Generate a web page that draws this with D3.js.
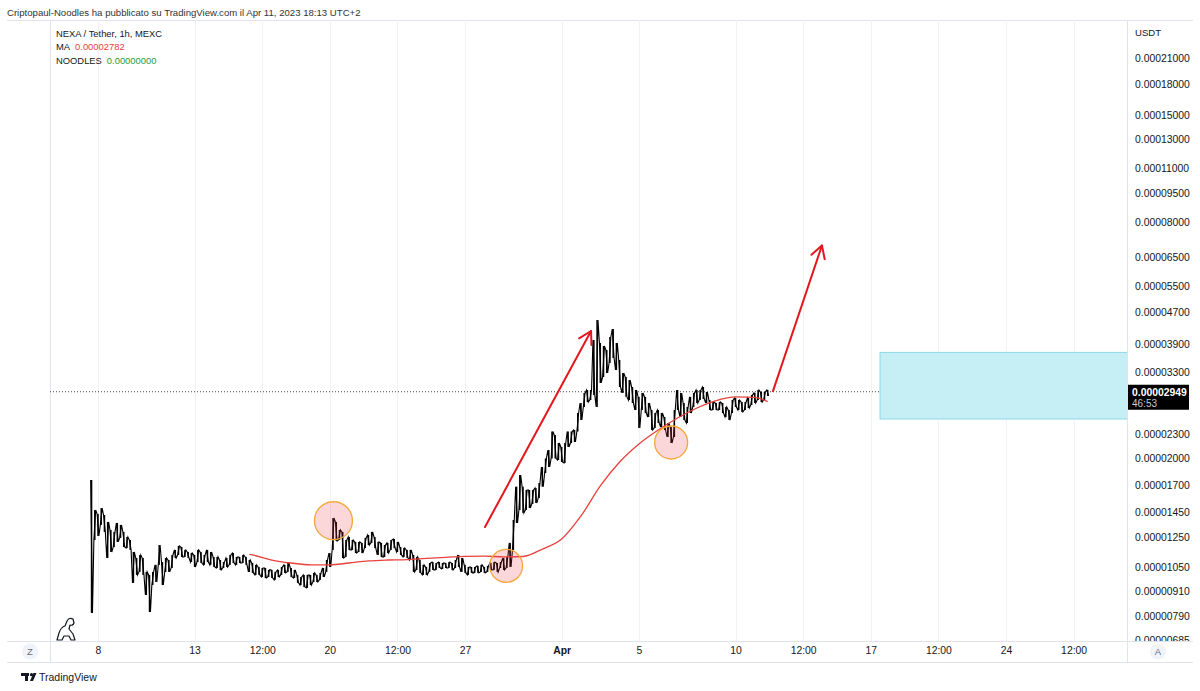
<!DOCTYPE html>
<html><head><meta charset="utf-8">
<script src="https://cdn.jsdelivr.net/npm/d3@7"></script>
<style>
body{margin:0;background:#fff;}
svg{display:block;font-family:"Liberation Sans",Arial,sans-serif;}
</style>
</head><body>
<svg id="chart" width="1200" height="691"></svg>
<script>
// ---------------- DATA (prices in units of 1e-8 USDT) ----------------
const PRICE_UNIT = 1e-8;
const barStart = "2023-03-07T16:00:00Z";
const barHours = 4;
const barHigh = [1755,1471,1437,1488,1428,1371,1308,1293,1363,1347,
1293,1255,1233,1149,1109,1129,1109,1022,1004,1022,
1065,1197,1083,1109,1096,1129,1163,1190,1183,1163,
1149,1142,1129,1163,1149,1129,1163,1149,1116,1116,
1096,1083,1109,1129,1142,1116,1116,1129,1116,1096,
1077,1065,1052,1046,1046,1034,1034,1022,1034,1052,
1065,1077,1046,1034,1004,992,1004,1004,1004,1016,
1004,1016,1046,1096,1142,1403,1371,1308,1293,1233,
1255,1233,1219,1219,1212,1248,1270,1293,1255,1219,
1212,1197,1212,1233,1240,1219,1183,1176,1163,1163,
1129,1116,1096,1065,1052,1077,1083,1077,1083,1077,
1077,1083,1077,1096,1129,1109,1065,1052,1052,1052,
1059,1065,1052,1059,1077,1083,1077,1083,1109,1116,
1212,1387,1687,1807,1687,1654,1654,1654,1674,1724,
1894,1992,2093,2334,2286,2181,2131,2181,2334,2334,
2355,2602,2760,2928,2979,2979,3998,4497,3929,3860,
3770,4069,4266,3929,3554,3292,3217,3160,3032,2979,
2861,2928,2861,2760,2649,2602,2649,2602,2542,2454,
2396,2649,2979,2928,2760,2696,2861,2928,2979,2979,
3032,2945,2809,2776,2760,2776,2760,2696,2649,2809,
2843,2809,2776,2776,2843,2893,2928,2979,2945,2945,
2979];
const barLow = [803,1233,1263,1347,1293,1109,1149,1183,1219,1248,
1183,1176,1163,958,1004,1022,1004,892,807,946,
963,1065,946,1022,1022,1046,1109,1129,1116,1116,
1109,1083,1052,1083,1077,1065,1083,1065,1052,1046,
1034,1046,1052,1065,1077,1065,1077,1077,1065,1022,
1016,1004,1004,992,986,992,986,975,992,1004,
1016,1022,992,986,958,946,935,930,946,963,
963,975,992,1022,1052,1163,1226,1233,1109,1116,
1163,1163,1142,1149,1142,1176,1197,1212,1176,1129,
1116,1116,1142,1163,1176,1149,1129,1116,1109,1096,
1022,1034,1016,1004,1004,1022,1034,1034,1046,1040,
1046,1046,1034,1046,1052,1022,1016,1004,1016,1016,
1016,1022,1016,1022,1034,1034,1022,1046,1034,1046,
1052,1163,1363,1471,1446,1471,1488,1524,1533,1578,
1687,1828,1894,1992,1992,1974,1951,1940,2131,2181,
2194,2334,2497,2696,2776,2809,2893,2696,3105,3217,
3292,3493,3596,3351,3032,2928,2861,2809,2760,2649,
2383,2649,2602,2542,2355,2383,2454,2396,2355,2260,
2181,2260,2649,2542,2497,2454,2602,2696,2760,2809,
2826,2760,2649,2649,2649,2649,2602,2542,2497,2602,
2696,2649,2618,2649,2680,2728,2760,2809,2776,2809,
2877];

const lastPrice = 2949;
const lastPriceLabel = "0.00002949";
const countdownLabel = "46:53";

const maTimes = ["2023-03-15T20:00:00Z","2023-03-16T00:00:00Z","2023-03-17T00:00:00Z","2023-03-18T00:00:00Z",
"2023-03-19T00:00:00Z","2023-03-20T00:00:00Z","2023-03-21T00:00:00Z","2023-03-22T00:00:00Z","2023-03-23T00:00:00Z",
"2023-03-24T00:00:00Z","2023-03-25T00:00:00Z","2023-03-26T00:00:00Z","2023-03-27T00:00:00Z","2023-03-28T00:00:00Z",
"2023-03-29T00:00:00Z","2023-03-30T00:00:00Z","2023-03-31T00:00:00Z","2023-04-01T00:00:00Z","2023-04-02T00:00:00Z",
"2023-04-03T00:00:00Z","2023-04-04T00:00:00Z","2023-04-05T00:00:00Z","2023-04-06T00:00:00Z","2023-04-07T00:00:00Z",
"2023-04-08T00:00:00Z","2023-04-09T00:00:00Z","2023-04-10T00:00:00Z","2023-04-11T00:00:00Z","2023-04-11T16:00:00Z"];
const maValues = [1133,1129,1096,1077,1065,1065,1077,1090,1096,1099,1107,1113,1120,1122,1116,1119,1169,
1240,1420,1694,1951,2169,2355,2527,2680,2800,2861,2853,2782];

const priceTickLabels = ["0.00021000","0.00018000","0.00015000","0.00013000","0.00011000","0.00009500",
"0.00008000","0.00006500","0.00005500","0.00004700","0.00003900","0.00003300","0.00002300","0.00002000",
"0.00001700","0.00001450","0.00001250","0.00001050","0.00000910","0.00000790","0.00000685"];

const timeTickDates = ["2023-03-08T00:00:00Z","2023-03-13T00:00:00Z","2023-03-16T12:00:00Z","2023-03-20T00:00:00Z",
"2023-03-23T12:00:00Z","2023-03-27T00:00:00Z","2023-04-01T00:00:00Z","2023-04-05T00:00:00Z","2023-04-10T00:00:00Z",
"2023-04-13T12:00:00Z","2023-04-17T00:00:00Z","2023-04-20T12:00:00Z","2023-04-24T00:00:00Z","2023-04-27T12:00:00Z"];
const timeTickLabels = ["8","13","12:00","20","12:00","27","Apr","5","10","12:00","17","12:00","24","12:00"];

// drawings
const circleTimes = ["2023-03-20T04:30:00Z","2023-03-29T03:00:00Z","2023-04-06T16:00:00Z"];
const circlePrices = [1381,1059,2188];
const arrowStartTimes = ["2023-03-28T00:45:00Z","2023-04-11T22:30:00Z"];
const arrowStartPrices = [1331,2960];
const arrowEndTimes = ["2023-04-02T12:30:00Z","2023-04-14T11:20:00Z"];
const arrowEndPrices = [4215,6972];
const zoneTimes = ["2023-04-17T11:30:00Z","2023-05-02T00:00:00Z"];
const zonePrices = [3717,2512];

// ---------------- LAYOUT ----------------
const W = 1200, H = 691;
const paneL = 50, paneR = 1127, paneT = 20, paneB = 641, axisB = 662;
const lineCol = "#e0e3eb", textCol = "#131722";

const svg = d3.select("#chart");
const x = d3.scaleUtc()
  .domain([new Date("2023-03-08T00:00:00Z"), new Date("2023-04-24T00:00:00Z")])
  .range([98, 1006]);
const y = d3.scaleLog()
  .domain([680.7 * PRICE_UNIT, 26260 * PRICE_UNIT])
  .range([paneB, paneT]);

const defs = svg.append("defs");
defs.append("clipPath").attr("id","paneClip").append("rect")
  .attr("x",paneL).attr("y",paneT).attr("width",paneR-paneL).attr("height",paneB-paneT);
defs.append("clipPath").attr("id","scaleClip").append("rect")
  .attr("x",paneR).attr("y",paneT).attr("width",W-paneR).attr("height",paneB-paneT);

// header
svg.append("text").attr("x",7).attr("y",15.5).attr("font-size",9.6).attr("fill","#333")
  .text("Criptopaul-Noodles ha pubblicato su TradingView.com il Apr 11, 2023 18:13 UTC+2");

// frame
const frame = svg.append("g").attr("stroke",lineCol).attr("stroke-width",1).attr("shape-rendering","crispEdges");
frame.append("line").attr("x1",7).attr("x2",1193).attr("y1",paneT+0.5).attr("y2",paneT+0.5);
frame.append("line").attr("x1",7).attr("x2",1193).attr("y1",paneB+0.5).attr("y2",paneB+0.5);
frame.append("line").attr("x1",7).attr("x2",1193).attr("y1",axisB+0.5).attr("y2",axisB+0.5);
frame.append("line").attr("x1",paneL+0.5).attr("x2",paneL+0.5).attr("y1",paneT).attr("y2",axisB);
frame.append("line").attr("x1",paneR+0.5).attr("x2",paneR+0.5).attr("y1",paneT).attr("y2",axisB);

const pane = svg.append("g").attr("clip-path","url(#paneClip)");

// vertical grid
const tickDates = timeTickDates.map(d => new Date(d));
pane.append("g").selectAll("line").data(tickDates).join("line")
  .attr("x1",d=>Math.round(x(d))+0.5).attr("x2",d=>Math.round(x(d))+0.5)
  .attr("y1",paneT).attr("y2",paneB)
  .attr("stroke","#f0f2f5").attr("stroke-width",1);

// last price dotted line
pane.append("line")
  .attr("x1",paneL).attr("x2",paneR)
  .attr("y1",y(lastPrice*PRICE_UNIT)).attr("y2",y(lastPrice*PRICE_UNIT))
  .attr("stroke","#444").attr("stroke-width",1).attr("stroke-dasharray","1,2");

// zone rectangle
const zx0 = x(new Date(zoneTimes[0])), zx1 = x(new Date(zoneTimes[1]));
const zy0 = y(zonePrices[0]*PRICE_UNIT), zy1 = y(zonePrices[1]*PRICE_UNIT);
pane.append("rect").attr("x",zx0).attr("y",zy0).attr("width",zx1-zx0).attr("height",zy1-zy0)
  .attr("fill","#c6eef5").attr("stroke","#8fd9e6").attr("stroke-width",1);

// candles (bars) : thin range bars joined by a zig-zag trace
const t0 = new Date(barStart).getTime();
const bars = barHigh.map((h,i)=>({t:new Date(t0 + i*barHours*3600e3), h:h*PRICE_UNIT, l:barLow[i]*PRICE_UNIT}));
const bw = 1.5;
pane.append("g").selectAll("rect").data(bars).join("rect")
  .attr("x",d=>x(d.t)-bw/2).attr("width",bw)
  .attr("y",d=>y(d.h)).attr("height",d=>Math.max(1,y(d.l)-y(d.h)))
  .attr("fill","#000");
const zig = [];
bars.forEach((d,i)=>{
  const a = i%2===0 ? d.h : d.l, b = i%2===0 ? d.l : d.h;
  zig.push([x(d.t)-0.9, y(a)], [x(d.t)+0.9, y(b)]);
});
pane.append("path").attr("d", d3.line()(zig))
  .attr("fill","none").attr("stroke","#000").attr("stroke-width",1.1).attr("stroke-linejoin","miter");

// MA
const maData = maTimes.map((t,i)=>({t:new Date(t), v:maValues[i]*PRICE_UNIT}));
pane.append("path").datum(maData)
  .attr("d", d3.line().x(d=>x(d.t)).y(d=>y(d.v)).curve(d3.curveMonotoneX))
  .attr("fill","none").attr("stroke","#e8413b").attr("stroke-width",1.3);

// circles
const cR = [19,16.5,16.5];
pane.append("g").selectAll("circle").data(circleTimes).join("circle")
  .attr("cx",(d,i)=>x(new Date(d))).attr("cy",(d,i)=>y(circlePrices[i]*PRICE_UNIT))
  .attr("r",(d,i)=>cR[i])
  .attr("fill","rgba(242,54,69,0.2)").attr("stroke","#f5a738").attr("stroke-width",1.3);

// arrows
arrowStartTimes.forEach((st,i)=>{
  const x1 = x(new Date(st)), y1 = y(arrowStartPrices[i]*PRICE_UNIT);
  const x2 = x(new Date(arrowEndTimes[i])), y2 = y(arrowEndPrices[i]*PRICE_UNIT);
  const len = Math.hypot(x2-x1,y2-y1), bx = (x1-x2)/len, by = (y1-y2)/len;
  const a = Math.PI/6, hl = 14;
  const w1 = [x2 + hl*(Math.cos(a)*bx - Math.sin(a)*by), y2 + hl*(Math.sin(a)*bx + Math.cos(a)*by)];
  const w2 = [x2 + hl*(Math.cos(-a)*bx - Math.sin(-a)*by), y2 + hl*(Math.sin(-a)*bx + Math.cos(-a)*by)];
  const g = pane.append("g").attr("stroke","#e3171e").attr("stroke-width",2)
    .attr("stroke-linecap","round").attr("stroke-linejoin","round").attr("fill","none");
  g.append("line").attr("x1",x1).attr("y1",y1).attr("x2",x2).attr("y2",y2);
  g.append("path").attr("d",`M${w1[0]},${w1[1]}L${x2},${y2}L${w2[0]},${w2[1]}`);
});

// legend
const leg = svg.append("g").attr("font-size",9.4).attr("fill",textCol);
leg.append("text").attr("x",56).attr("y",36.5).text("NEXA / Tether, 1h, MEXC");
function legendRow(yPos, name, value, col){
  const lab = leg.append("text").attr("x",56).attr("y",yPos).text(name);
  const w = lab.node().getComputedTextLength();
  leg.append("text").attr("x",56 + w + 5).attr("y",yPos).attr("fill",col).text(value);
}
legendRow(50, "MA", "0.00002782", "#e8413b");
legendRow(63.5, "NOODLES", "0.00000000", "#1f9d3a");

// price axis
svg.append("text").attr("x",1135).attr("y",35.5).attr("font-size",9.6).attr("fill",textCol).text("USDT");
const pAxis = svg.append("g").attr("clip-path","url(#scaleClip)")
  .append("g").attr("transform",`translate(${paneR},0)`)
  .call(d3.axisRight(y).tickValues(priceTickLabels.map(s=>+s)).tickFormat((d,i)=>priceTickLabels[i])
    .tickSize(0).tickPadding(8));
pAxis.select(".domain").remove();
pAxis.selectAll("text").attr("font-size",10.4).attr("fill",textCol).attr("font-family","Liberation Sans, Arial, sans-serif");

// last price tag
const ly = y(lastPrice*PRICE_UNIT);
svg.append("rect").attr("x",paneR+1).attr("y",ly-7).attr("width",61).attr("height",25).attr("fill","#000");
svg.append("text").attr("x",paneR+5).attr("y",ly+4).attr("font-size",10.4).attr("font-weight","bold").attr("fill","#fff").text(lastPriceLabel);
svg.append("text").attr("x",paneR+5).attr("y",ly+15.5).attr("font-size",10).attr("fill","#c8cad0").text(countdownLabel);

// time axis
const tAxis = svg.append("g").attr("transform",`translate(0,${paneB})`)
  .call(d3.axisBottom(x).tickValues(tickDates).tickFormat((d,i)=>timeTickLabels[i]).tickSize(0).tickPadding(6));
tAxis.select(".domain").remove();
tAxis.selectAll("text").attr("font-size",10.4).attr("fill",textCol).attr("font-family","Liberation Sans, Arial, sans-serif")
  .attr("font-weight",(d,i)=>timeTickLabels[i]==="Apr"?"bold":"normal");

// Z and A buttons
[[30,"Z"],[1158,"A"]].forEach(([cx,t])=>{
  svg.append("circle").attr("cx",cx).attr("cy",651.5).attr("r",8).attr("fill","#f0f3fa");
  svg.append("text").attr("x",cx).attr("y",655).attr("text-anchor","middle").attr("font-size",9.5).attr("fill","#6a6d78").text(t);
});

// dino icon
svg.append("path")
  .attr("d","M57,640 L59,633 Q61,627 65,626 L67,621 Q69,617 73,619 L74,623 Q73,626 70,625 L69,629 L73,634 L75,640 L71,640 L69,636 L64,636 L62,640 Z")
  .attr("fill","#fff").attr("stroke","#131722").attr("stroke-width",1.2).attr("stroke-linejoin","round");

// footer logo
const logo = svg.append("g").attr("fill","#131722");
logo.append("rect").attr("x",21).attr("y",673).attr("width",8).attr("height",3);
logo.append("rect").attr("x",25).attr("y",673).attr("width",3).attr("height",8);
logo.append("circle").attr("cx",31.5).attr("cy",674.7).attr("r",1.6);
logo.append("path").attr("d","M30,681 L33.5,673 L36.5,673 L33,681 Z");
svg.append("text").attr("x",39).attr("y",681).attr("font-size",10.5).attr("fill","#131722").text("TradingView");
</script>
</body></html>
